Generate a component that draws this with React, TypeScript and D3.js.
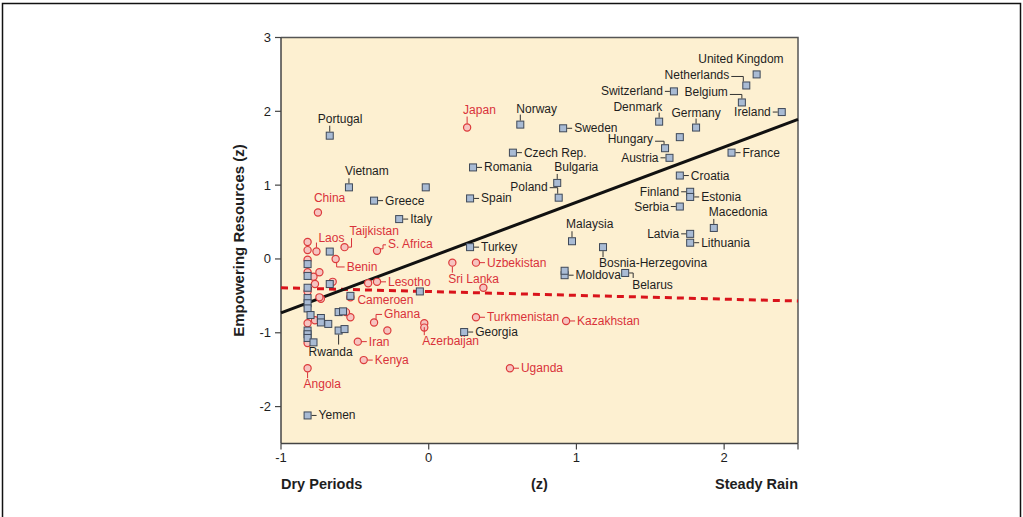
import React from "react";
import * as d3 from "d3";

// countries drawn as squares (black labels)
const squareCountries = [
  "United Kingdom", "Netherlands", "Switzerland", "Belgium", "Denmark", "Germany", "Ireland", "",
  "Hungary", "Austria", "France", "Sweden", "Norway", "Czech Rep.", "Romania", "Bulgaria",
  "Poland", "Spain", "Turkey", "Malaysia", "Bosnia-Herzegovina", "Moldova", "", "Belarus",
  "Croatia", "Finland", "Estonia", "Serbia", "Macedonia", "Latvia", "Lithuania", "Georgia",
  "Portugal", "Vietnam", "Greece", "Italy", "", "Rwanda", "Yemen", "", "", "", "",
  "", "", "", "", "", "", "", "", "", "", "", "", "", "", "", "", "",
];
const squareRain = [
  2.22, 2.15, 1.66, 2.12, 1.56, 1.81, 2.39, 1.70,
  1.60, 1.63, 2.05, 0.91, 0.62, 0.57, 0.30, 0.87,
  0.88, 0.28, 0.28, 0.97, 1.18, 0.92, 0.92, 1.33,
  1.70, 1.77, 1.77, 1.70, 1.93, 1.77, 1.77, 0.24,
  -0.67, -0.54, -0.37, -0.20, -0.02, -0.61, -0.82, -0.53, -0.06, -0.67, -0.67,
  -0.82, -0.82, -0.82, -0.82, -0.82, -0.80, -0.73, -0.73, -0.68, -0.82, -0.82, -0.82, -0.78, -0.61, -0.58, -0.57, -0.82,
];
const squareResources = [
  2.50, 2.35, 2.27, 2.12, 1.86, 1.78, 1.99, 1.65,
  1.50, 1.37, 1.44, 1.77, 1.82, 1.44, 1.24, 1.03,
  0.83, 0.82, 0.16, 0.24, 0.16, -0.22, -0.16, -0.19,
  1.13, 0.91, 0.84, 0.71, 0.42, 0.34, 0.22, -0.99,
  1.67, 0.97, 0.79, 0.54, 0.97, -0.97, -2.12, -0.50, -0.44, 0.10, -0.34,
  -0.07, -0.23, -0.53, -0.60, -0.67, -0.76, -0.80, -0.86, -0.88, -0.97, -1.02, -1.07, -1.13, -0.72, -0.71, -0.95, -0.39,
];

// countries drawn as circles (red labels)
const circleCountries = [
  "Japan", "China", "Laos", "", "Taijkistan", "S. Africa", "Benin", "Lesotho", "",
  "Sri Lanka", "Uzbekistan", "", "Cameroen", "Ghana", "", "Iran", "Kenya", "Angola",
  "Azerbaijan", "", "Turkmenistan", "Kazakhstan", "Uganda",
  "", "", "", "", "", "", "", "", "", "", "", "", "", "", "",
];
const circleRain = [
  0.26, -0.75, -0.76, -0.82, -0.57, -0.35, -0.63, -0.35, -0.41,
  0.16, 0.32, 0.37, -0.53, -0.37, -0.28, -0.48, -0.44, -0.82,
  -0.03, -0.03, 0.32, 0.93, 0.55,
  -0.82, -0.82, -0.78, -0.74, -0.82, -0.77, -0.65, -0.73, -0.82, -0.77, -0.82, -0.53, -0.56, -0.74, -0.82,
];
const circleResources = [
  1.78, 0.63, 0.10, 0.23, 0.16, 0.11, 0.00, -0.31, -0.33,
  -0.05, -0.05, -0.39, -0.52, -0.86, -0.97, -1.12, -1.37, -1.48,
  -0.87, -0.93, -0.79, -0.84, -1.48,
  -0.01, -0.18, -0.24, -0.18, -0.44, -0.34, -0.31, -0.54, -0.87, -0.83, -1.14, -0.79, -0.72, -0.52, 0.12,
];

// regression lines, endpoints at the x domain edges
const fitRain = [-1, 2.5];
const fitSquares = [-0.73, 1.89];
const fitCircles = [-0.39, -0.57];

const xTicks = [-1, 0, 1, 2];
const yTicks = [-2, -1, 0, 1, 2, 3];

// label placement: [dx, dy, anchor, leader points] relative to the marker
type Lay = [number, number, string, number[][]];
const R: Lay = [11, 4, "start", [[4, 0], [9, 0]]];
const L: Lay = [-11, 4, "end", [[-4, 0], [-9, 0]]];
const labelLayout: Record<string, Lay> = {
  "United Kingdom": [27, -11, "end", []],
  Netherlands: [-17, -6, "end", [[-15, -9], [-3, -9], [-3, -4]]],
  Switzerland: L,
  Belgium: [-14, -6, "end", [[-12, -8], [0, -8], [0, -4]]],
  Denmark: [3, -11, "end", [[0, -4], [0, -9]]],
  Germany: [0, -11, "middle", [[0, -4], [0, -9]]],
  Ireland: L,
  Hungary: [-12, -5, "end", [[-10, -7], [-1, -7], [-1, -4]]],
  Austria: L,
  France: R,
  Sweden: R,
  Norway: [-4, -12, "start", [[0, -4], [0, -10]]],
  "Czech Rep.": R,
  Romania: R,
  Bulgaria: [-3, -12, "start", [[0, -4], [0, -9]]],
  Poland: [-11, -7, "end", [[-9, -10], [-1, -10], [-1, -4]]],
  Spain: R,
  Turkey: R,
  Malaysia: [-6, -13, "start", [[0, -4], [0, -10]]],
  "Bosnia-Herzegovina": [-4, 20, "start", [[0, 4], [0, 10]]],
  Moldova: R,
  Belarus: [7, 16, "start", [[4, 0], [8, 0], [8, 5]]],
  Croatia: R,
  Finland: L,
  Estonia: R,
  Serbia: L,
  Macedonia: [-5, -12, "start", [[0, -4], [0, -9]]],
  Latvia: L,
  Lithuania: R,
  Georgia: R,
  Portugal: [-12, -13, "start", [[0, -4], [0, -10]]],
  Vietnam: [-4, -12, "start", [[0, -4], [0, -9]]],
  Greece: R,
  Italy: R,
  Rwanda: [-30, 25, "start", [[0, 4], [0, 14]]],
  Yemen: R,
  Japan: [-4, -14, "start", [[0, -4], [0, -11]]],
  China: [-4, -10, "start", []],
  Laos: [2, -10, "start", [[0, -4], [0, -9]]],
  Taijkistan: [5, -12, "start", [[4, 0], [7, 0], [7, -9]]],
  "S. Africa": [11, -3, "start", [[3, -2], [6, -2], [6, -6], [9, -6]]],
  Benin: [11, 12, "start", [[1, 4], [1, 8], [9, 8]]],
  Lesotho: R,
  "Sri Lanka": [-4, 20, "start", [[0, 4], [0, 10]]],
  Uzbekistan: R,
  Cameroen: [7, 7, "start", []],
  Ghana: [10, -4, "start", [[2, -3], [2, -8], [8, -8]]],
  Iran: R,
  Kenya: R,
  Angola: [-4, 20, "start", [[0, 4], [0, 10]]],
  Azerbaijan: [-2, 22, "start", [[0, 4], [0, 12]]],
  Turkmenistan: R,
  Kazakhstan: R,
  Uganda: R,
};

const FONT = "'Liberation Sans', Arial, Helvetica, sans-serif";
const RED = "#d9323a";
const INK = "#1e1e1e";

export default function App() {
  const x = d3.scaleLinear().domain([-1, 2.5]).range([281, 798]);
  const y = d3.scaleLinear().domain([-2.5, 3]).range([443.5, 37.5]);
  const line = d3.line<number[]>().x(d => d[0]).y(d => d[1]);

  const squares = squareCountries.map((name, i) => ({ name, px: x(squareRain[i]), py: y(squareResources[i]) }));
  const circles = circleCountries.map((name, i) => ({ name, px: x(circleRain[i]), py: y(circleResources[i]) }));

  const renderLabel = (p: { name: string; px: number; py: number }, color: string) => {
    if (!p.name) return null;
    const lay = labelLayout[p.name];
    if (!lay) return null;
    const [dx, dy, anchor, lead] = lay;
    return (
      <g key={"l" + p.name}>
        {lead.length > 0 && (
          <path
            d={line(lead.map(q => [p.px + q[0], p.py + q[1]])) || ""}
            fill="none"
            stroke={color === RED ? RED : "#333"}
            strokeWidth={1}
          />
        )}
        <text x={p.px + dx} y={p.py + dy} textAnchor={anchor as any} fill={color} fontSize={12}>
          {p.name}
        </text>
      </g>
    );
  };

  const [x0, x1] = x.range();
  const [yb, yt] = y.range();

  return (
    <svg width={1023} height={517} style={{ position: "absolute", left: 0, top: 0, background: "#fff" }} fontFamily={FONT}>
      <rect x={2.5} y={3.5} width={1018} height={530} fill="none" stroke="#111" strokeWidth={1.5} />
      <rect x={x0} y={yt} width={x1 - x0} height={yb - yt} fill="#fdf0d1" />

      {/* frame */}
      <path d={`M${x0},${yt}H${x1}V${yb}`} fill="none" stroke="#555" strokeWidth={1.5} />
      <line x1={x0} x2={x0} y1={yt} y2={yb} stroke="#444" strokeWidth={1.5} />
      <line x1={x0} x2={x1} y1={yb} y2={yb} stroke="#444" strokeWidth={1.5} />

      {yTicks.map(t => (
        <g key={"y" + t}>
          <line x1={x0 - 6} x2={x0} y1={y(t)} y2={y(t)} stroke="#444" strokeWidth={1.2} />
          <text x={x0 - 10} y={y(t) + 4.5} textAnchor="end" fontSize={13} fill={INK}>{t}</text>
        </g>
      ))}
      {xTicks.concat([2.5]).map(t => (
        <line key={"xt" + t} x1={x(t)} x2={x(t)} y1={yb} y2={yb + 6} stroke="#444" strokeWidth={1.2} />
      ))}
      {xTicks.map(t => (
        <text key={"x" + t} x={x(t)} y={yb + 18} textAnchor="middle" fontSize={13} fill={INK}>{t}</text>
      ))}

      <text transform={`translate(244,${(yt + yb) / 2}) rotate(-90)`} textAnchor="middle" fontSize={15} fontWeight="bold" fill={INK}>
        Empowering Resources (z)
      </text>
      <text x={x0} y={489} fontSize={14.5} fontWeight="bold" fill={INK}>Dry Periods</text>
      <text x={x(0.75)} y={489} textAnchor="middle" fontSize={14.5} fontWeight="bold" fill={INK}>(z)</text>
      <text x={x1} y={489} textAnchor="end" fontSize={14.5} fontWeight="bold" fill={INK}>Steady Rain</text>

      {/* fit lines */}
      <path d={line(fitRain.map((r, i) => [x(r), y(fitCircles[i])])) || ""} stroke="#d9131b" strokeWidth={3} strokeDasharray="7,5" fill="none" />
      <path d={line(fitRain.map((r, i) => [x(r), y(fitSquares[i])])) || ""} stroke="#111" strokeWidth={3} fill="none" />

      {circles.map((p, i) => (
        <circle key={"c" + i} cx={p.px} cy={p.py} r={3.6} fill="#f6c4c0" stroke="#dc3b3b" strokeWidth={1.2} />
      ))}
      {squares.map((p, i) => (
        <rect key={"s" + i} x={p.px - 3.5} y={p.py - 3.5} width={7} height={7} fill="#a9bbd4" stroke="#3e4858" strokeWidth={1} />
      ))}

      {squares.map(p => renderLabel(p, INK))}
      {circles.map(p => renderLabel(p, RED))}
    </svg>
  );
}
